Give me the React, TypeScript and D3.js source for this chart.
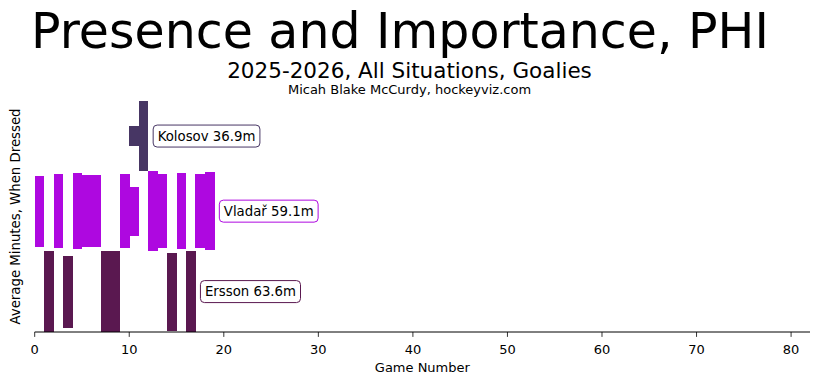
import React from "react";
import * as d3 from "d3";

const goalieNames = ["Ersson", "Vladař", "Kolosov"];
const goalieColors = ["#5a1850", "#ae08e0", "#473664"];
const goalieLabels = ["Ersson 63.6m", "Vladař 59.1m", "Kolosov 36.9m"];

const erssonGames = [2, 4, 8, 9, 15, 17];
const erssonMinutes = [65.6, 58.3, 65.6, 65.6, 63.4, 65.6];

const vladarGames = [1, 3, 5, 6, 7, 10, 11, 13, 14, 16, 18, 19];
const vladarMinutes = [57.7, 60.2, 61.8, 58.5, 58.5, 60.2, 39.8, 65.0, 60.2, 61.5, 60.2, 63.4];

const kolosovGames = [11, 12];
const kolosovMinutes = [16.3, 56.9];

const xTicks = [0, 10, 20, 30, 40, 50, 60, 70, 80];

const W = 819;
const H = 385;
const margin = { left: 34.7, right: 9, top: 101, bottom: 53 };
const FONT = "DejaVu Sans, sans-serif";

export default function App() {
  const series = [
    { games: erssonGames, minutes: erssonMinutes },
    { games: vladarGames, minutes: vladarMinutes },
    { games: kolosovGames, minutes: kolosovMinutes },
  ];
  const maxes = series.map((s) => d3.max(s.minutes) as number);
  const offsets: number[] = [];
  let acc = 0;
  maxes.forEach((m) => {
    offsets.push(acc);
    acc += m;
  });
  const total = acc;

  const x = d3.scaleLinear().domain([0, 82]).range([margin.left, W - margin.right]);
  const y = d3.scaleLinear().domain([0, total]).range([H - margin.bottom, margin.top]);
  const barW = 1;

  return (
    <div style={{ position: "absolute", left: 0, top: 0 }}>
      <svg width={W} height={H} style={{ display: "block", background: "#fff" }}>
        <text x={W / 2 - 9.5} y={48} textAnchor="middle" fontFamily={FONT} fontSize={49} fill="#000">
          Presence and Importance, PHI
        </text>
        <text x={W / 2} y={78} textAnchor="middle" fontFamily={FONT} fontSize={21.5} fill="#000">
          2025-2026, All Situations, Goalies
        </text>
        <text x={W / 2} y={94} textAnchor="middle" fontFamily={FONT} fontSize={13} fill="#000">
          Micah Blake McCurdy, hockeyviz.com
        </text>

        {series.map((s, i) => {
          const center = offsets[i] + maxes[i] / 2;
          return (
            <g key={goalieNames[i]} shapeRendering="crispEdges">
              {s.games.map((g, j) => {
                const m = s.minutes[j];
                const y0 = y(center + m / 2);
                const y1 = y(center - m / 2);
                return (
                  <rect
                    key={g}
                    x={x(g - 1)}
                    width={x(g - 1 + barW) - x(g - 1) + 0.3}
                    y={y0}
                    height={y1 - y0}
                    fill={goalieColors[i]}
                  />
                );
              })}
            </g>
          );
        })}

        {series.map((s, i) => {
          const center = offsets[i] + maxes[i] / 2;
          const lastG = d3.max(s.games) as number;
          const bx = x(lastG) + 5;
          const cy = y(center);
          const label = goalieLabels[i];
          return (
            <g key={"lab" + i}>
              <rect
                x={bx}
                y={cy - 11}
                width={0}
                height={22}
                rx={4}
                fill="#fff"
                stroke={goalieColors[i]}
                strokeWidth={1}
              />
              <text
                x={bx + 4.5}
                y={cy + 4.8}
                fontFamily={FONT}
                fontSize={13.3}
                fill="#000"
                ref={(el) => {
                  if (el) {
                    const bb = el.getBBox();
                    const r = el.previousSibling as SVGRectElement;
                    r.setAttribute("width", String(bb.width + 9));
                  }
                }}
              >
                {label}
              </text>
            </g>
          );
        })}

        <line x1={x(0)} x2={x(82)} y1={y(0)} y2={y(0)} stroke="#000" strokeWidth={1} />
        {xTicks.map((t) => (
          <g key={t} transform={`translate(${x(t)},${y(0)})`}>
            <line y1={0} y2={4.9} stroke="#000" strokeWidth={0.8} />
            <text y={22} textAnchor="middle" fontFamily={FONT} fontSize={13} fill="#000">
              {t}
            </text>
          </g>
        ))}
        <text x={(x(0) + x(82)) / 2} y={372} textAnchor="middle" fontFamily={FONT} fontSize={13} fill="#000">
          Game Number
        </text>
        <text
          transform={`translate(20,${(y(0) + y(total)) / 2}) rotate(-90)`}
          textAnchor="middle"
          fontFamily={FONT}
          fontSize={13.3}
          fill="#000"
        >
          Average Minutes, When Dressed
        </text>
      </svg>
    </div>
  );
}
